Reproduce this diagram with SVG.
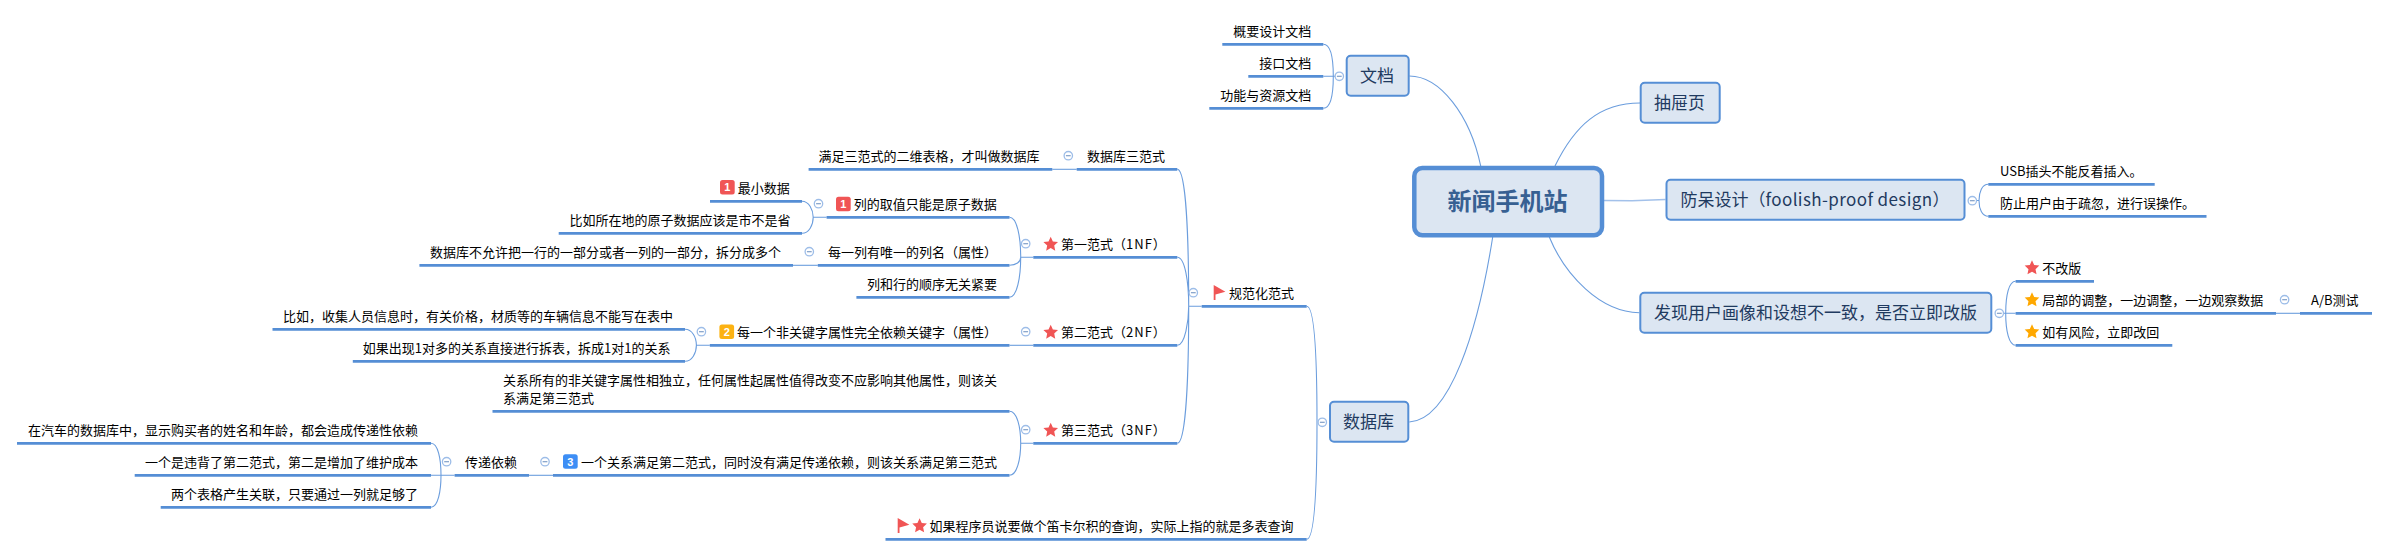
<svg xmlns="http://www.w3.org/2000/svg" xmlns:xlink="http://www.w3.org/1999/xlink" width="2390" height="556" viewBox="0 0 2390 556">
<style>
text{font-family:"Noto Sans CJK SC","Microsoft YaHei","Noto Sans",sans-serif;font-size:13px;fill:#000}
.u{stroke:#558ed5;stroke-width:2.8;fill:none}
.c{stroke:#6b9ddd;stroke-width:1.1;fill:none}
.b{fill:#dce6f2;stroke:#558ed5;stroke-width:2}
.t{font-size:17px;fill:#1f3a60}
.root{font-size:24px;font-weight:700;fill:#376092}
.tg circle{fill:#fff;stroke:#9dbde8;stroke-width:1.3}
.tg line{stroke:#7f9fc8;stroke-width:1.2}
.red{fill:#f05555}.org{fill:#ffa800}
.bn{font-family:"Liberation Sans",sans-serif;font-size:11px;font-weight:700;fill:#fff;text-anchor:middle}
.ls{letter-spacing:1px}
.lf{letter-spacing:.4px}
</style>
<defs>
<polygon id="star" points="0,-7.7 2.17,-2.99 7.32,-2.38 3.52,1.14 4.53,6.23 0,3.7 -4.53,6.23 -3.52,1.14 -7.32,-2.38 -2.17,-2.99"/>
<path id="flag" d="M0 0L11.7 6.7L1.8 9.6V15H0Z"/>
<g id="tog" class="tg"><circle r="4.2"/><line x1="-2.4" x2="2.4"/></g>
</defs>
<rect width="2390" height="556" fill="#fff"/>
<g id="connectors">
<path class="c" d="M1409.3 76C1440 76 1470 115 1480.7 166"/>
<path class="c" d="M1555 166C1575 125 1600 103 1640 103"/>
<path class="c" d="M1409.3 422C1450 420 1478 330 1492.7 237"/>
<path class="c" d="M1549.3 237C1565 275 1600 312 1639.3 312.7"/>
<path d="M1604 200.5L1632 200.8L1665.5 199.5" stroke="#a3c1ea" stroke-width="1.6" fill="none"/>
<path class="c" d="M1323.3 44.3C1331 44.3 1333.3 60 1333.3 76.3C1333.3 92 1331 108.3 1323.3 108.3M1323.3 76.3H1339"/>
<path class="c" d="M1988.3 184.3C1982 184.3 1979 192 1979 200.5C1979 209 1982 216.3 1988.3 216.3M1976 200.5H1979"/>
<path class="c" d="M2015.6 281.3C2009 281.3 2005.7 295 2005.7 313.3C2005.7 331 2009 345.3 2015.6 345.3M1999.3 313.3H2015.6"/>
<path class="c" d="M2276 313.3H2300"/>
<path class="c" d="M1306.7 306.3C1315 306.3 1317 364 1317 422C1317 480 1315 539.3 1306.7 539.3"/>
<path class="c" d="M1177.3 169.3C1186 169.3 1188.7 238 1188.7 306.3C1188.7 375 1186 443.3 1177.3 443.3M1177.3 257.3C1185 257.3 1188.7 282 1188.7 306.3C1188.7 321 1185 345.3 1177.3 345.3M1188.7 306.3H1201.7"/>
<path class="c" d="M1052.3 169.3H1076.7"/>
<path class="c" d="M1009.5 217.3C1017 217.3 1020.7 237 1020.7 257.3C1020.7 277 1017 297.3 1009.5 297.3M1009.5 265.3C1016 265.3 1020.7 262 1020.7 257.3M1020.7 257.3H1033.3"/>
<path class="c" d="M802 201.3C809 201.3 813.2 210 813.2 217.3C813.2 225 809 233.3 802 233.3M813.2 217.3H826.6"/>
<path class="c" d="M793 265.3H817.8"/>
<path class="c" d="M1009.5 345.3H1033.3"/>
<path class="c" d="M685 329.3C692 329.3 696.4 337 696.4 345.3C696.4 353 692 361.3 685 361.3M696.4 345.3H709.8"/>
<path class="c" d="M1009.5 411.3C1017 411.3 1020.7 427 1020.7 443.3C1020.7 459 1017 475.3 1009.5 475.3M1020.7 443.3H1033.3"/>
<path class="c" d="M529 475.3H553"/>
<path class="c" d="M431 443.3C438 443.3 441 459 441 475.3C441 491 438 507.3 431 507.3M431 475.3H454.6"/>
</g>
<g id="root"><rect x="1414.3" y="168" width="187.7" height="67.3" rx="8" fill="#dce6f2" stroke="#558ed5" stroke-width="4.5"/><text class="root" x="1447.5" y="209.5">新闻手机站</text></g>
<g id="wendang"><rect class="b" x="1346.7" y="55.7" width="62" height="40" rx="4"/><text class="t" x="1360" y="81.5">文档</text><use xlink:href="#tog" href="#tog" x="1339.3" y="76.3"/></g>
<g id="d1"><line class="u" x1="1222.3" x2="1323.3" y1="44.3" y2="44.3"/><text x="1233.3" y="36">概要设计文档</text></g>
<g id="d2"><line class="u" x1="1248.3" x2="1323.3" y1="76.3" y2="76.3"/><text x="1259.3" y="68">接口文档</text></g>
<g id="d3"><line class="u" x1="1209.3" x2="1323.3" y1="108.3" y2="108.3"/><text x="1220.3" y="100">功能与资源文档</text></g>
<g id="chouti"><rect class="b" x="1640.7" y="82.7" width="79" height="40" rx="4"/><text class="t" x="1654" y="108.5">抽屉页</text></g>
<g id="fangdai"><rect class="b" x="1666.5" y="179.7" width="298" height="40" rx="4"/><text class="t" x="1680.5" y="205.5">防呆设计（<tspan class="lf">foolish-proof design</tspan>）</text><use xlink:href="#tog" href="#tog" x="1972.3" y="200.7"/></g>
<g id="f1"><line class="u" x1="1988.3" x2="2154.7" y1="184.3" y2="184.3"/><text x="2000" y="176">USB插头不能反着插入。</text></g>
<g id="f2"><line class="u" x1="1988.3" x2="2206.5" y1="216.3" y2="216.3"/><text x="2000" y="208">防止用户由于疏忽，进行误操作。</text></g>
<g id="faxian"><rect class="b" x="1640.3" y="292.7" width="351" height="40" rx="4"/><text class="t" x="1654" y="318.5">发现用户画像和设想不一致，是否立即改版</text><use xlink:href="#tog" href="#tog" x="1999.3" y="313.3"/></g>
<g id="g1"><line class="u" x1="2015.6" x2="2094" y1="281.3" y2="281.3"/><use href="#star" xlink:href="#star" class="red" x="2032" y="268"/><text x="2042.3" y="273">不改版</text></g>
<g id="g2"><line class="u" x1="2015.6" x2="2276" y1="313.3" y2="313.3"/><use href="#star" xlink:href="#star" class="org" x="2032" y="300"/><text x="2042.3" y="305">局部的调整，一边调整，一边观察数据</text><use xlink:href="#tog" href="#tog" x="2284.6" y="299.7"/></g>
<g id="g3"><line class="u" x1="2300" x2="2372" y1="313.3" y2="313.3"/><text x="2311" y="305">A/B测试</text></g>
<g id="g4"><line class="u" x1="2015.6" x2="2172.3" y1="345.3" y2="345.3"/><use href="#star" xlink:href="#star" class="org" x="2032" y="332"/><text x="2042.3" y="337">如有风险，立即改回</text></g>
<g id="shujuku"><rect class="b" x="1330" y="401.7" width="78.3" height="40" rx="4"/><text class="t" x="1343" y="427.5">数据库</text><use xlink:href="#tog" href="#tog" x="1322.3" y="422.3"/></g>
<g id="guifan"><line class="u" x1="1201.7" x2="1306.7" y1="306.3" y2="306.3"/><use href="#flag" xlink:href="#flag" class="red" x="1213.7" y="285"/><text x="1229" y="298">规范化范式</text><use xlink:href="#tog" href="#tog" x="1193.3" y="292.7"/></g>
<g id="dikaer"><line class="u" x1="885.5" x2="1306.7" y1="539.3" y2="539.3"/><use href="#flag" xlink:href="#flag" class="red" x="897.7" y="518"/><use href="#star" xlink:href="#star" class="red" x="919.6" y="526"/><text x="929.5" y="531">如果程序员说要做个笛卡尔积的查询，实际上指的就是多表查询</text></g>
<g id="sanfan"><line class="u" x1="1076.7" x2="1177.3" y1="169.3" y2="169.3"/><text x="1087" y="161">数据库三范式</text><use xlink:href="#tog" href="#tog" x="1068.3" y="155.7"/></g>
<g id="manzu"><line class="u" x1="808.6" x2="1052.3" y1="169.3" y2="169.3"/><text x="818.5" y="161">满足三范式的二维表格，才叫做数据库</text></g>
<g id="nf1"><line class="u" x1="1033.3" x2="1177.3" y1="257.3" y2="257.3"/><use href="#star" xlink:href="#star" class="red" x="1050.7" y="244.4"/><text x="1061" y="249">第一范式（<tspan class="ls">1NF</tspan>）</text><use xlink:href="#tog" href="#tog" x="1025.7" y="243.7"/></g>
<g id="a1"><line class="u" x1="826.6" x2="1009.5" y1="217.3" y2="217.3"/><rect class="red" x="836" y="196.7" width="14.7" height="14.5" rx="2.5"/><text class="bn" x="843.3" y="208">1</text><text x="853.7" y="209">列的取值只能是原子数据</text><use xlink:href="#tog" href="#tog" x="818.5" y="203.7"/></g>
<g id="a11"><line class="u" x1="710" x2="802" y1="201.3" y2="201.3"/><rect class="red" x="720" y="180" width="14.7" height="14.5" rx="2.5"/><text class="bn" x="727.3" y="191.3">1</text><text x="737.8" y="193">最小数据</text></g>
<g id="a12"><line class="u" x1="558.7" x2="802" y1="233.3" y2="233.3"/><text x="569.5" y="225">比如所在地的原子数据应该是市不是省</text></g>
<g id="a2"><line class="u" x1="817.8" x2="1009.5" y1="265.3" y2="265.3"/><text x="828" y="257">每一列有唯一的列名（属性）</text><use xlink:href="#tog" href="#tog" x="809.3" y="251.7"/></g>
<g id="a21"><line class="u" x1="419.4" x2="793" y1="265.3" y2="265.3"/><text x="430" y="257">数据库不允许把一行的一部分或者一列的一部分，拆分成多个</text></g>
<g id="a3"><line class="u" x1="856.4" x2="1009.5" y1="297.3" y2="297.3"/><text x="867" y="289">列和行的顺序无关紧要</text></g>
<g id="nf2"><line class="u" x1="1033.3" x2="1177.3" y1="345.3" y2="345.3"/><use href="#star" xlink:href="#star" class="red" x="1050.7" y="332.4"/><text x="1061" y="337">第二范式（<tspan class="ls">2NF</tspan>）</text><use xlink:href="#tog" href="#tog" x="1025.7" y="331.7"/></g>
<g id="b1"><line class="u" x1="709.8" x2="1009.5" y1="345.3" y2="345.3"/><rect fill="#fcb212" x="719.4" y="324.5" width="14.7" height="14.5" rx="2.5"/><text class="bn" x="726.7" y="335.8">2</text><text x="737" y="337">每一个非关键字属性完全依赖关键字（属性）</text><use xlink:href="#tog" href="#tog" x="701.4" y="331.7"/></g>
<g id="b11"><line class="u" x1="272.5" x2="685" y1="329.3" y2="329.3"/><text x="283" y="321">比如，收集人员信息时，有关价格，材质等的车辆信息不能写在表中</text></g>
<g id="b12"><line class="u" x1="352.8" x2="685" y1="361.3" y2="361.3"/><text x="362.8" y="353">如果出现1对多的关系直接进行拆表，拆成1对1的关系</text></g>
<g id="nf3"><line class="u" x1="1033.3" x2="1177.3" y1="443.3" y2="443.3"/><use href="#star" xlink:href="#star" class="red" x="1050.7" y="430.4"/><text x="1061" y="435">第三范式（<tspan class="ls">3NF</tspan>）</text><use xlink:href="#tog" href="#tog" x="1025.7" y="429.7"/></g>
<g id="c1"><line class="u" x1="492.5" x2="1009.5" y1="411.3" y2="411.3"/><text x="503" y="385">关系所有的非关键字属性相独立，任何属性起属性值得改变不应影响其他属性，则该关</text><text x="503" y="403">系满足第三范式</text></g>
<g id="c2"><line class="u" x1="553" x2="1009.5" y1="475.3" y2="475.3"/><rect fill="#3d8ef5" x="563" y="454.3" width="14.7" height="14.5" rx="2.5"/><text class="bn" x="570.3" y="465.6">3</text><text x="581" y="467">一个关系满足第二范式，同时没有满足传递依赖，则该关系满足第三范式</text><use xlink:href="#tog" href="#tog" x="545" y="461.7"/></g>
<g id="c21"><line class="u" x1="454.6" x2="529" y1="475.3" y2="475.3"/><text x="465" y="467">传递依赖</text><use xlink:href="#tog" href="#tog" x="446.6" y="461.7"/></g>
<g id="c211"><line class="u" x1="17" x2="431" y1="443.3" y2="443.3"/><text x="28" y="435">在汽车的数据库中，显示购买者的姓名和年龄，都会造成传递性依赖</text></g>
<g id="c212"><line class="u" x1="134.7" x2="431" y1="475.3" y2="475.3"/><text x="145" y="467">一个是违背了第二范式，第二是增加了维护成本</text></g>
<g id="c213"><line class="u" x1="160.7" x2="431" y1="507.3" y2="507.3"/><text x="171" y="499">两个表格产生关联，只要通过一列就足够了</text></g>
</svg>
